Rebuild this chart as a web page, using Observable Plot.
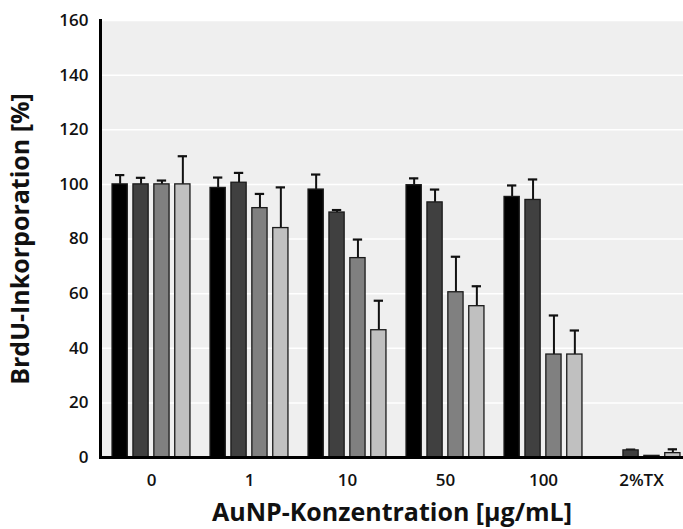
<!DOCTYPE html>
<html>
<head>
<meta charset="utf-8">
<script src="https://cdn.jsdelivr.net/npm/d3@7"></script>
<script src="https://cdn.jsdelivr.net/npm/@observablehq/plot@0.6"></script>
<style>
  html, body { margin: 0; padding: 0; background: #fff; overflow: hidden; }
  #chart svg { font-family: "Open Sans", sans-serif; overflow: visible; }
  #chart g[aria-label="y-axis label"] text,
  #chart g[aria-label="x-axis label"] text { font-size: 25px; font-weight: 700; fill: #111; }
</style>
</head>
<body>
<div id="chart"></div>
<script>
// Categories (AuNP concentration groups)
const groups = ["0", "1", "10", "50", "100", "2%TX"];
// Four series (bar shades), values in % BrdU incorporation
const series = ["S1", "S2", "S3", "S4"];
const mean1 = [100, 98.7, 98.1, 99.7, 95.4, 0];
const mean2 = [100, 100.6, 89.7, 93.4, 94.3, 2.6];
const mean3 = [100, 91.3, 73.0, 60.5, 37.7, 0.6];
const mean4 = [100, 84.0, 46.6, 55.4, 37.7, 1.6];
// Upper error bars (SD)
const err1 = [3.4, 3.8, 5.5, 2.5, 4.2, 0];
const err2 = [2.4, 3.6, 0.9, 4.7, 7.5, 0.3];
const err3 = [1.4, 5.2, 6.8, 13.0, 14.3, 0];
const err4 = [10.3, 14.9, 10.8, 7.3, 8.8, 1.4];
const yTicks = [0, 20, 40, 60, 80, 100, 120, 140, 160];

const means = [mean1, mean2, mean3, mean4];
const errs = [err1, err2, err3, err4];
const fills = ["#000000", "#404040", "#808080", "#c0c0c0"];

const rows = [];
series.forEach((s, i) => groups.forEach((g, j) => {
  rows.push({group: g, series: s, value: means[i][j], err: errs[i][j]});
}));

const W = 683, H = 529;
const xRange = [100, 692];
const outer = d3.scaleBand(groups, xRange);
const bw = outer.bandwidth();
const inner = d3.scaleBand(series, [0, bw]).paddingInner(0.24).paddingOuter(0.48);
const ib = inner.bandwidth();

const seriesMarks = series.flatMap((s, i) => {
  const data = rows.filter(d => d.series === s);
  const left = inner(s), right = bw - inner(s) - ib;
  const center = inner(s) + ib / 2;
  const capHalf = 5;
  return [
    Plot.ruleX(data.filter(d => d.err > 0), {x: "group", y1: "value", y2: d => d.value + d.err,
      dx: center - bw / 2, stroke: "#111", strokeWidth: 2}),
    Plot.tickY(data.filter(d => d.err > 0), {x: "group", y: d => d.value + d.err,
      insetLeft: center - capHalf, insetRight: bw - center - capHalf, stroke: "#111", strokeWidth: 2.2}),
    Plot.barY(data, {x: "group", y: "value", fill: fills[i], stroke: "#1a1a1a", strokeWidth: 1.3,
      insetLeft: left, insetRight: right})
  ];
});

const chart = Plot.plot({
  width: W,
  height: H,
  marginLeft: 100,
  marginRight: 0,
  marginTop: 20,
  marginBottom: 72,
  x: {domain: groups, range: xRange, padding: 0},
  y: {domain: [0, 160], ticks: yTicks},
  marks: [
    Plot.frame({fill: "#efefef", stroke: null}),
    Plot.gridY(yTicks, {stroke: "#ffffff", strokeOpacity: 1, strokeWidth: 1.5}),
    ...seriesMarks,
    Plot.ruleY([0], {stroke: "#000", strokeWidth: 3}),
    Plot.frame({anchor: "left", stroke: "#000", strokeWidth: 3}),
    Plot.axisY(yTicks, {tickSize: 0, tickPadding: 12, fontSize: 17, fontWeight: 600, fill: "#111",
      label: "BrdU-Inkorporation [%]", labelAnchor: "center", labelOffset: 89, labelArrow: "none"}),
    Plot.axisX({tickSize: 0, tickPadding: 16, fontSize: 17, fontWeight: 600, fill: "#111",
      label: "AuNP-Konzentration [µg/mL]", labelAnchor: "center", labelOffset: 63, labelArrow: "none"})
  ]
});
document.getElementById("chart").appendChild(chart);
</script>
</body>
</html>
